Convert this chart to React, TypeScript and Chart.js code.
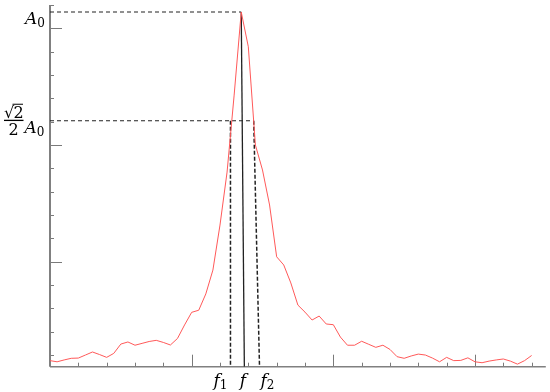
import React, { useEffect, useRef } from "react";
import { Chart, registerables } from "chart.js";

Chart.register(...registerables);

// sampling step of the spectrum (frequency units per sample)
const sampleStep = 0.25;
// measured amplitude spectrum (arbitrary units)
const spectrum = [
  -0.24, -0.29, -0.21, -0.14, -0.13, 0.0, 0.13, 0.02, -0.1, 0.07,
  0.47, 0.56, 0.42, 0.5, 0.58, 0.63, 0.54, 0.43, 0.71, 1.29,
  1.83, 1.92, 2.62, 3.64, 5.57, 7.84, 11.14, 14.7, 13.21, 9.0,
  7.93, 6.43, 4.21, 3.86, 3.09, 2.14, 1.84, 1.5, 1.67, 1.33,
  1.3, 0.77, 0.42, 0.42, 0.59, 0.46, 0.33, 0.42, 0.24, -0.07,
  -0.14, -0.04, 0.04, 0.0, -0.13, -0.29, -0.1, -0.24, -0.23, -0.12,
  -0.29, -0.33, -0.26, -0.21, -0.17, -0.26, -0.39, -0.24, -0.02,
];
const frequencies = spectrum.map((_, i) => i * sampleStep);

const peakLevel = 14.7; // A0
const halfPowerLevel = 10.04; // (sqrt2/2) A0
const peakFreq = 6.75;
const fLineFoot = 6.86;
const f1Top = 6.37;
const f1Foot = 6.37;
const f2Top = 7.19;
const f2Foot = 7.395;

const xMin = 0;
const xMax = 17.5;
const yMin = -0.5;
const yMax = 15;
const xTicks = [1, 2, 3, 4, 5, 6, 7, 8, 9, 10, 11, 12, 13, 14, 15, 16, 17];
const xMajorTicks = [5, 10, 15];
const yTicks = [0, 1, 2, 3, 4, 5, 6, 7, 8, 9, 10, 11, 12, 13, 14, 15];
const yMajorTicks = [4, 9, 14];

const axisPlugin = {
  id: "customAxes",
  beforeDatasetsDraw(chart: any) {
    const { ctx, scales } = chart;
    const xs = scales.x;
    const ys = scales.y;
    const x0 = xs.getPixelForValue(xMin);
    const x1 = xs.getPixelForValue(xMax);
    const y0 = ys.getPixelForValue(yMin);
    const y1 = ys.getPixelForValue(yMax);
    ctx.save();
    ctx.strokeStyle = "#7a7a7a";
    ctx.lineWidth = 1;
    yTicks.forEach((v) => {
      const py = Math.round(ys.getPixelForValue(v)) + 0.5;
      const len = yMajorTicks.includes(v) ? 12 : 4;
      ctx.beginPath();
      ctx.moveTo(x0, py);
      ctx.lineTo(x0 + len, py);
      ctx.stroke();
    });
    xTicks.forEach((v) => {
      const px = Math.round(xs.getPixelForValue(v)) + 0.5;
      const len = xMajorTicks.includes(v) ? 12 : 4;
      ctx.beginPath();
      ctx.moveTo(px, y0);
      ctx.lineTo(px, y0 - len);
      ctx.stroke();
    });
    ctx.strokeStyle = "#808080";
    ctx.lineWidth = 2;
    ctx.beginPath();
    ctx.moveTo(x0, y1);
    ctx.lineTo(x0, y0);
    ctx.stroke();
    ctx.lineWidth = 1.6;
    ctx.beginPath();
    ctx.moveTo(x0, y0);
    ctx.lineTo(x1, y0);
    ctx.stroke();
    ctx.restore();
  },
  afterDraw(chart: any) {
    const { ctx, scales } = chart;
    const xs = scales.x;
    const ys = scales.y;
    const fam = "'DejaVu Serif', serif";
    ctx.save();
    ctx.fillStyle = "#000";
    ctx.strokeStyle = "#000";
    ctx.textBaseline = "alphabetic";
    ctx.textAlign = "left";
    const sym = (main: string, sub: string, x: number, base: number) => {
      ctx.font = `italic 17px ${fam}`;
      ctx.fillText(main, x, base);
      const w = ctx.measureText(main).width;
      ctx.font = `12px ${fam}`;
      ctx.fillText(sub, x + w, base + 3);
    };
    // A0 label
    const yA = ys.getPixelForValue(peakLevel);
    sym("A", "0", 25, yA + 12);
    // sqrt2/2 A0 label
    const yH = ys.getPixelForValue(halfPowerLevel);
    ctx.font = `16px ${fam}`;
    ctx.textAlign = "left";
    ctx.fillText("\u221A", 4, yH - 3);
    ctx.fillText("2", 13.5, yH - 3);
    ctx.lineWidth = 1;
    ctx.beginPath();
    ctx.moveTo(12.5, yH - 16.5);
    ctx.lineTo(23, yH - 16.5);
    ctx.stroke();
    ctx.textAlign = "center";
    ctx.fillText("2", 13.5, yH + 14);
    ctx.fillRect(4, yH - 1, 19.5, 1.3);
    ctx.textAlign = "left";
    sym("A", "0", 24.5, yH + 12);
    // f labels
    const base = 386;
    sym("f", "1", xs.getPixelForValue(f1Foot) - 17, base);
    ctx.font = `italic 17px ${fam}`;
    ctx.textAlign = "center";
    ctx.fillText("f", xs.getPixelForValue(fLineFoot) - 1.5, base);
    ctx.textAlign = "left";
    sym("f", "2", xs.getPixelForValue(f2Foot) + 1, base);
    ctx.restore();
  },
};

export default function App() {
  const ref = useRef<HTMLCanvasElement | null>(null);
  useEffect(() => {
    if (!ref.current) return;
    const chart = new Chart(ref.current, {
      type: "line",
      data: {
        datasets: [
          {
            label: "spectrum",
            data: frequencies.map((f, i) => ({ x: f, y: spectrum[i] })),
            borderColor: "#ff5959",
            borderWidth: 1,
            pointRadius: 0,
            tension: 0,
            order: 0,
          },
          {
            label: "A0 level",
            data: [
              { x: xMin, y: peakLevel },
              { x: peakFreq, y: peakLevel },
            ],
            borderColor: "#222",
            borderWidth: 1.2,
            borderDash: [4, 3],
            pointRadius: 0,
            order: 2,
          },
          {
            label: "half power level",
            data: [
              { x: xMin, y: halfPowerLevel },
              { x: f2Top, y: halfPowerLevel },
            ],
            borderColor: "#222",
            borderWidth: 1.2,
            borderDash: [4, 3],
            pointRadius: 0,
            order: 2,
          },
          {
            label: "f1",
            data: [
              { x: f1Top, y: halfPowerLevel },
              { x: f1Foot, y: yMin },
            ],
            borderColor: "#222",
            borderWidth: 1.5,
            borderDash: [4, 2],
            pointRadius: 0,
            order: 2,
          },
          {
            label: "f2",
            data: [
              { x: f2Top, y: halfPowerLevel },
              { x: f2Foot, y: yMin },
            ],
            borderColor: "#222",
            borderWidth: 1.5,
            borderDash: [4, 2],
            pointRadius: 0,
            order: 2,
          },
          {
            label: "f",
            data: [
              { x: peakFreq, y: peakLevel },
              { x: fLineFoot, y: yMin },
            ],
            borderColor: "#222",
            borderWidth: 1.3,
            pointRadius: 0,
            order: 1,
          },
        ],
      },
      options: {
        animation: false,
        responsive: false,
        maintainAspectRatio: false,
        layout: { padding: { left: 50, top: 5, right: 4.2, bottom: 25.3 } },
        plugins: {
          legend: { display: false },
          tooltip: { enabled: false },
          title: { display: false },
        },
        scales: {
          x: { type: "linear", min: xMin, max: xMax, display: false },
          y: { type: "linear", min: yMin, max: yMax, display: false },
        },
      },
      plugins: [axisPlugin],
    });
    return () => chart.destroy();
  }, []);
  return (
    <div style={{ position: "fixed", left: 0, top: 0, width: 550, height: 392, background: "#fff" }}>
      <canvas ref={ref} width={550} height={392} style={{ width: 550, height: 392, display: "block" }} />
    </div>
  );
}
